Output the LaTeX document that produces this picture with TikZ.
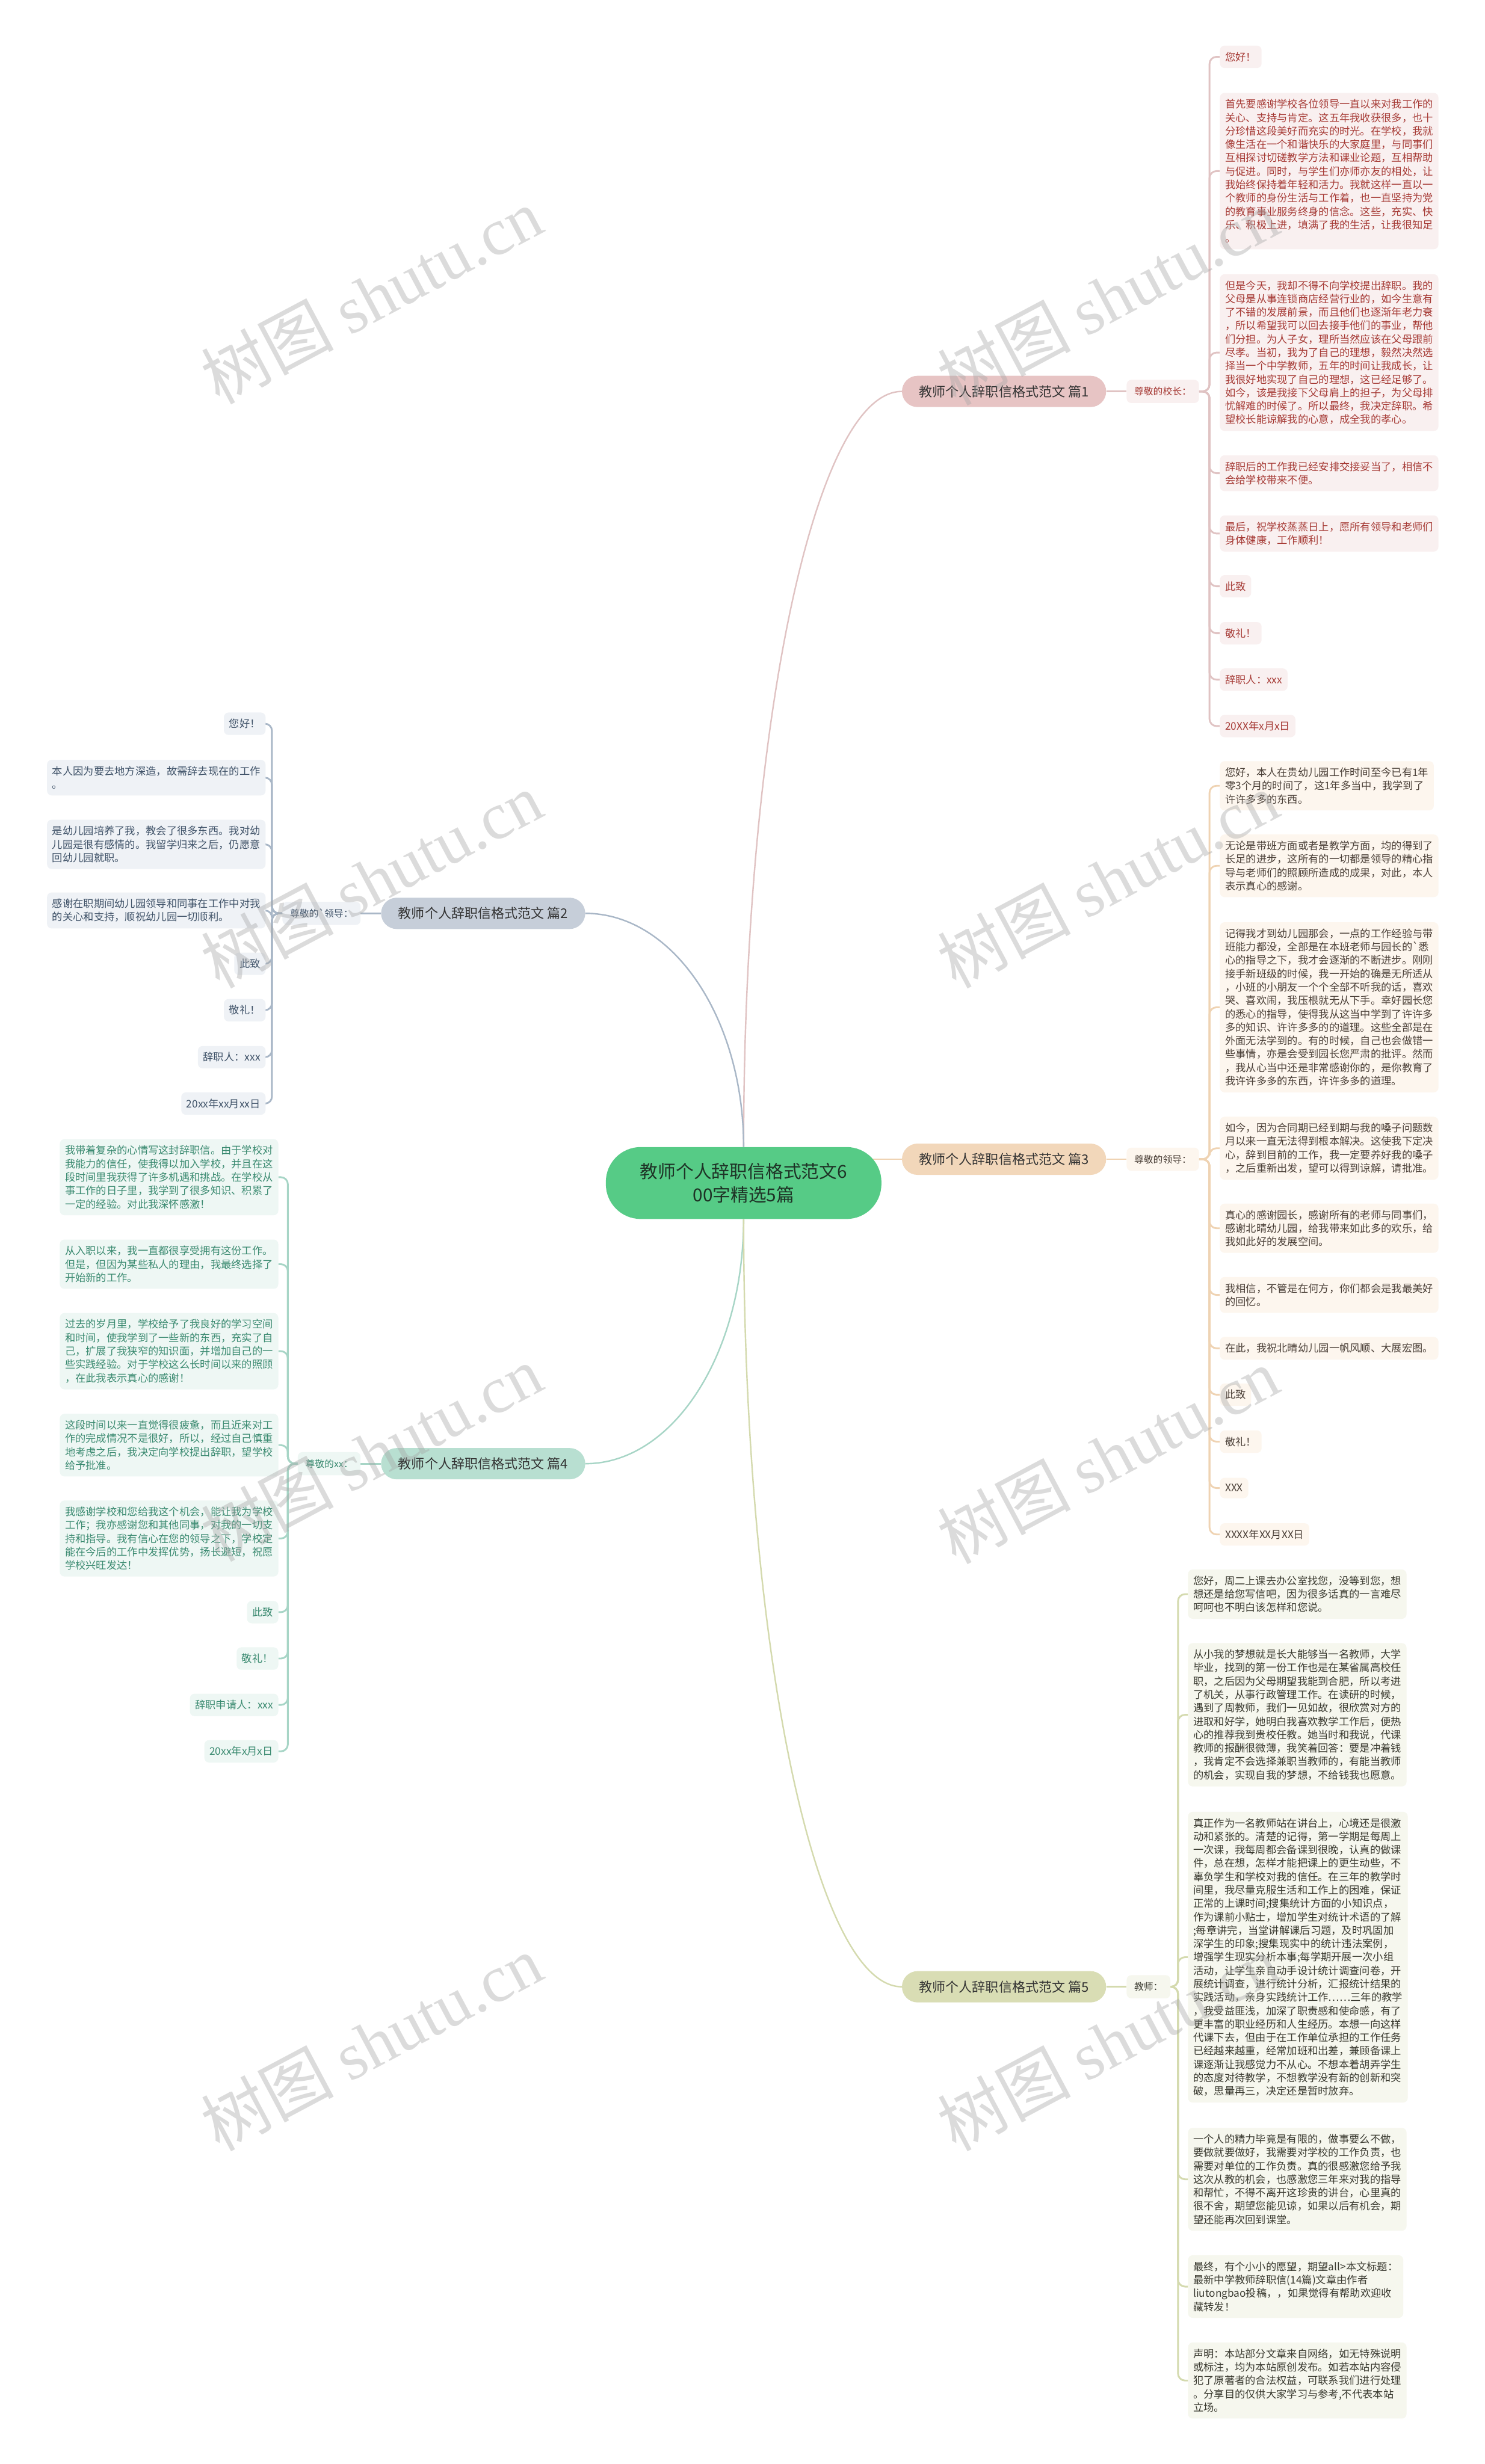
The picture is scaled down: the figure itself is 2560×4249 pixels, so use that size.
\documentclass[tikz,border=0pt]{standalone}
\usepackage{fontspec}
\setmainfont{Noto Sans CJK SC}
\newfontfamily\stampfont{Liberation Serif}
\usepackage{xcolor}
\usetikzlibrary{positioning, backgrounds}
\definecolor{rootfill}{HTML}{56CB86}
\definecolor{roottext}{HTML}{1E3326}
\definecolor{topictext}{HTML}{333333}
\definecolor{b1top}{HTML}{E7C4C4}
\definecolor{b1bg}{HTML}{F9F0F0}
\definecolor{b1fg}{HTML}{A63A35}
\definecolor{b1ln}{HTML}{E0C3C3}
\definecolor{b2top}{HTML}{C6CED9}
\definecolor{b2bg}{HTML}{EFF2F6}
\definecolor{b2fg}{HTML}{3F5268}
\definecolor{b2ln}{HTML}{A9B7C7}
\definecolor{b3top}{HTML}{F2D7BA}
\definecolor{b3bg}{HTML}{FDF6EE}
\definecolor{b3fg}{HTML}{4B4038}
\definecolor{b3ln}{HTML}{EFD3B3}
\definecolor{b4top}{HTML}{B8DFD1}
\definecolor{b4bg}{HTML}{EEF7F4}
\definecolor{b4fg}{HTML}{3A8A70}
\definecolor{b4ln}{HTML}{A7D5C6}
\definecolor{b5top}{HTML}{D9DDB4}
\definecolor{b5bg}{HTML}{F6F7EE}
\definecolor{b5fg}{HTML}{3A3A30}
\definecolor{b5ln}{HTML}{D4DAAE}
\tikzset{
    lettermap/.style={x=1bp, y=-1bp, node distance=35bp},
    root/.style={fill=rootfill, text=roottext, rounded corners=60bp, minimum width=475bp, minimum height=124bp, align=center, font=\fontsize{31}{40}\selectfont},
    topic/.style={text=topictext, rounded corners=27bp, minimum width=352bp, minimum height=54bp, font=\fontsize{23}{27}\selectfont},
    greet/.style={rounded corners=8bp, inner xsep=13bp, minimum height=40bp, font=\fontsize{16.5}{20}\selectfont},
    leaf/.style={rounded corners=8bp, inner xsep=9bp, inner ysep=11bp, align=left, font=\fontsize{18}{23.2}\selectfont},
    rleaf/.style={leaf, anchor=west},
    lleaf/.style={leaf, anchor=east},
    tone1/.style={fill=b1bg, text=b1fg},
    tone2/.style={fill=b2bg, text=b2fg},
    tone3/.style={fill=b3bg, text=b3fg},
    tone4/.style={fill=b4bg, text=b4fg},
    tone5/.style={fill=b5bg, text=b5fg},
    line1/.style={draw=b1ln},
    line2/.style={draw=b2ln},
    line3/.style={draw=b3ln},
    line4/.style={draw=b4ln},
    line5/.style={draw=b5ln},
    twig/.style={line width=3bp, rounded corners=12bp},
    trunk/.style={line width=2.5bp},
    % faint site mark laid over the map
    stamp/.style={rotate=28, text=gray!70, opacity=0.4, font=\fontsize{115}{115}\selectfont},
}
\begin{document}
\begin{tikzpicture}[lettermap]
    \useasboundingbox (0,0) rectangle (2560,4249);
    \begin{scope}[on background layer]
        \fill[white] (0,0) rectangle (2560,4249);
    \end{scope}

    \node[root] (root) at (1282,2040) {教师个人辞职信格式范文6\\00字精选5篇};
    \node[topic, fill=b1top] (t1) at (1731,675)  {教师个人辞职信格式范文 篇1};
    \node[topic, fill=b2top] (t2) at (833,1575)  {教师个人辞职信格式范文 篇2};
    \node[topic, fill=b3top] (t3) at (1731,1999) {教师个人辞职信格式范文 篇3};
    \node[topic, fill=b4top] (t4) at (833,2524)  {教师个人辞职信格式范文 篇4};
    \node[topic, fill=b5top] (t5) at (1731,3426) {教师个人辞职信格式范文 篇5};

    \node[greet, tone1, right=of t1] (g1) {尊敬的校长：};
    \node[greet, tone2, left=of t2]  (g2) {尊敬的\textasciigrave 领导：};
    \node[greet, tone3, right=of t3] (g3) {尊敬的领导：};
    \node[greet, tone4, left=of t4]  (g4) {尊敬的xx：};
    \node[greet, tone5, right=of t5] (g5) {教师：};

    % letter 1
    \node[rleaf, tone1] (l1a) at (2103,98)  {您好！};
    \node[rleaf, tone1] (l1b) at (2103,295) {首先要感谢学校各位领导一直以来对我工作的\\关心、支持与肯定。这五年我收获很多，也十\\分珍惜这段美好而充实的时光。在学校，我就\\像生活在一个和谐快乐的大家庭里，与同事们\\互相探讨切磋教学方法和课业论题，互相帮助\\与促进。同时，与学生们亦师亦友的相处，让\\我始终保持着年轻和活力。我就这样一直以一\\个教师的身份生活与工作着，也一直坚持为党\\的教育事业服务终身的信念。这些，充实、快\\乐、积极上进，填满了我的生活，让我很知足\\。};
    \node[rleaf, tone1] (l1c) at (2103,608) {但是今天，我却不得不向学校提出辞职。我的\\父母是从事连锁商店经营行业的，如今生意有\\了不错的发展前景，而且他们也逐渐年老力衰\\，所以希望我可以回去接手他们的事业，帮他\\们分担。为人子女，理所当然应该在父母跟前\\尽孝。当初，我为了自己的理想，毅然决然选\\择当一个中学教师，五年的时间让我成长，让\\我很好地实现了自己的理想，这已经足够了。\\如今，该是我接下父母肩上的担子，为父母排\\忧解难的时候了。所以最终，我决定辞职。希\\望校长能谅解我的心意，成全我的孝心。};
    \node[rleaf, tone1] (l1d) at (2103,816)  {辞职后的工作我已经安排交接妥当了，相信不\\会给学校带来不便。};
    \node[rleaf, tone1] (l1e) at (2103,920)  {最后，祝学校蒸蒸日上，愿所有领导和老师们\\身体健康，工作顺利！};
    \node[rleaf, tone1] (l1f) at (2103,1011) {此致};
    \node[rleaf, tone1] (l1g) at (2103,1092) {敬礼！};
    \node[rleaf, tone1] (l1h) at (2103,1172) {辞职人：xxx};
    \node[rleaf, tone1] (l1i) at (2103,1252) {20XX年x月x日};

    % letter 2
    \node[lleaf, tone2] (l2a) at (458,1248) {您好！};
    \node[lleaf, tone2] (l2b) at (458,1341) {本人因为要去地方深造，故需辞去现在的工作\\。};
    \node[lleaf, tone2] (l2c) at (458,1456) {是幼儿园培养了我，教会了很多东西。我对幼\\儿园是很有感情的。我留学归来之后，仍愿意\\回幼儿园就职。};
    \node[lleaf, tone2] (l2d) at (458,1570) {感谢在职期间幼儿园领导和同事在工作中对我\\的关心和支持，顺祝幼儿园一切顺利。};
    \node[lleaf, tone2] (l2e) at (458,1662) {此致};
    \node[lleaf, tone2] (l2f) at (458,1742) {敬礼！};
    \node[lleaf, tone2] (l2g) at (458,1823) {辞职人：xxx};
    \node[lleaf, tone2] (l2h) at (458,1903) {20xx年xx月xx日};

    % letter 3
    \node[rleaf, tone3] (l3a) at (2103,1355) {您好，本人在贵幼儿园工作时间至今已有1年\\零3个月的时间了，这1年多当中，我学到了\\许许多多的东西。};
    \node[rleaf, tone3] (l3b) at (2103,1493) {无论是带班方面或者是教学方面，均的得到了\\长足的进步，这所有的一切都是领导的精心指\\导与老师们的照顾所造成的成果，对此，本人\\表示真心的感谢。};
    \node[rleaf, tone3] (l3c) at (2103,1737) {记得我才到幼儿园那会，一点的工作经验与带\\班能力都没，全部是在本班老师与园长的\textasciigrave 悉\\心的指导之下，我才会逐渐的不断进步。刚刚\\接手新班级的时候，我一开始的确是无所适从\\，小班的小朋友一个个全部不听我的话，喜欢\\哭、喜欢闹，我压根就无从下手。幸好园长您\\的悉心的指导，使得我从这当中学到了许许多\\多的知识、许许多多的的道理。这些全部是在\\外面无法学到的。有的时候，自己也会做错一\\些事情，亦是会受到园长您严肃的批评。然而\\，我从心当中还是非常感谢你的，是你教育了\\我许许多多的东西，许许多多的道理。};
    \node[rleaf, tone3] (l3d) at (2103,1980) {如今，因为合同期已经到期与我的嗓子问题数\\月以来一直无法得到根本解决。这使我下定决\\心，辞到目前的工作，我一定要养好我的嗓子\\，之后重新出发，望可以得到谅解，请批准。};
    \node[rleaf, tone3] (l3e) at (2103,2118) {真心的感谢园长，感谢所有的老师与同事们，\\感谢北晴幼儿园，给我带来如此多的欢乐，给\\我如此好的发展空间。};
    \node[rleaf, tone3] (l3f) at (2103,2233) {我相信，不管是在何方，你们都会是我最美好\\的回忆。};
    \node[rleaf, tone3] (l3g) at (2103,2325) {在此，我祝北晴幼儿园一帆风顺、大展宏图。};
    \node[rleaf, tone3] (l3h) at (2103,2405) {此致};
    \node[rleaf, tone3] (l3i) at (2103,2486) {敬礼！};
    \node[rleaf, tone3] (l3j) at (2103,2566) {XXX};
    \node[rleaf, tone3] (l3k) at (2103,2646) {XXXX年XX月XX日};

    % letter 4
    \node[lleaf, tone4] (l4a) at (480,2030) {我带着复杂的心情写这封辞职信。由于学校对\\我能力的信任，使我得以加入学校，并且在这\\段时间里我获得了许多机遇和挑战。在学校从\\事工作的日子里，我学到了很多知识、积累了\\一定的经验。对此我深怀感激！};
    \node[lleaf, tone4] (l4b) at (480,2180) {从入职以来，我一直都很享受拥有这份工作。\\但是，但因为某些私人的理由，我最终选择了\\开始新的工作。};
    \node[lleaf, tone4] (l4c) at (480,2330) {过去的岁月里，学校给予了我良好的学习空间\\和时间，使我学到了一些新的东西，充实了自\\己，扩展了我狭窄的知识面，并增加自己的一\\些实践经验。对于学校这么长时间以来的照顾\\，在此我表示真心的感谢！};
    \node[lleaf, tone4] (l4d) at (480,2492) {这段时间以来一直觉得很疲惫，而且近来对工\\作的完成情况不是很好，所以，经过自己慎重\\地考虑之后，我决定向学校提出辞职，望学校\\给予批准。};
    \node[lleaf, tone4] (l4e) at (480,2653) {我感谢学校和您给我这个机会，能让我为学校\\工作；我亦感谢您和其他同事，对我的一切支\\持和指导。我有信心在您的领导之下，学校定\\能在今后的工作中发挥优势，扬长避短，祝愿\\学校兴旺发达！};
    \node[lleaf, tone4] (l4f) at (480,2780) {此致};
    \node[lleaf, tone4] (l4g) at (480,2860) {敬礼！};
    \node[lleaf, tone4] (l4h) at (480,2940) {辞职申请人：xxx};
    \node[lleaf, tone4] (l4i) at (480,3020) {20xx年x月x日};

    % letter 5
    \node[rleaf, tone5] (l5a) at (2048,2749) {您好，周二上课去办公室找您，没等到您，想\\想还是给您写信吧，因为很多话真的一言难尽\\呵呵也不明白该怎样和您说。};
    \node[rleaf, tone5] (l5b) at (2048,2957) {从小我的梦想就是长大能够当一名教师，大学\\毕业，找到的第一份工作也是在某省属高校任\\职，之后因为父母期望我能到合肥，所以考进\\了机关，从事行政管理工作。在读研的时候，\\遇到了周教师，我们一见如故，很欣赏对方的\\进取和好学，她明白我喜欢教学工作后，便热\\心的推荐我到贵校任教。她当时和我说，代课\\教师的报酬很微薄，我笑着回答：要是冲着钱\\，我肯定不会选择兼职当教师的，有能当教师\\的机会，实现自我的梦想，不给钱我也愿意。};
    \node[rleaf, tone5] (l5c) at (2048,3375) {真正作为一名教师站在讲台上，心境还是很激\\动和紧张的。清楚的记得，第一学期是每周上\\一次课，我每周都会备课到很晚，认真的做课\\件，总在想，怎样才能把课上的更生动些，不\\辜负学生和学校对我的信任。在三年的教学时\\间里，我尽量克服生活和工作上的困难，保证\\正常的上课时间;搜集统计方面的小知识点，\\作为课前小贴士，增加学生对统计术语的了解\\;每章讲完，当堂讲解课后习题，及时巩固加\\深学生的印象;搜集现实中的统计违法案例，\\增强学生现实分析本事;每学期开展一次小组\\活动，让学生亲自动手设计统计调查问卷，开\\展统计调查，进行统计分析，汇报统计结果的\\实践活动，亲身实践统计工作……三年的教学\\，我受益匪浅，加深了职责感和使命感，有了\\更丰富的职业经历和人生经历。本想一向这样\\代课下去，但由于在工作单位承担的工作任务\\已经越来越重，经常加班和出差，兼顾备课上\\课逐渐让我感觉力不从心。不想本着胡弄学生\\的态度对待教学，不想教学没有新的创新和突\\破，思量再三，决定还是暂时放弃。};
    \node[rleaf, tone5] (l5d) at (2048,3758) {一个人的精力毕竟是有限的，做事要么不做，\\要做就要做好，我需要对学校的工作负责，也\\需要对单位的工作负责。真的很感激您给予我\\这次从教的机会，也感激您三年来对我的指导\\和帮忙，不得不离开这珍贵的讲台，心里真的\\很不舍，期望您能见谅，如果以后有机会，期\\望还能再次回到课堂。};
    \node[rleaf, tone5] (l5e) at (2048,3943) {最终，有个小小的愿望，期望all>本文标题：\\最新中学教师辞职信(14篇)文章由作者\\liutongbao投稿，，如果觉得有帮助欢迎收\\藏转发！};
    \node[rleaf, tone5] (l5f) at (2048,4105) {声明：本站部分文章来自网络，如无特殊说明\\或标注，均为本站原创发布。如若本站内容侵\\犯了原著者的合法权益，可联系我们进行处理\\。分享目的仅供大家学习与参考,不代表本站\\立场。};

    \begin{scope}[on background layer]
        \draw[trunk, line1] (root.north) .. controls +(0,-720) and +(-151,0) .. (t1.west);
        \draw[trunk, line2] (root.north) .. controls +(0,-222) and +(151,0) .. (t2.east);
        \draw[trunk, line3] (t3.west) -- (t3.west -| root.center);
        \draw[trunk, line4] (root.south) .. controls +(0,233) and +(151,0) .. (t4.east);
        \draw[trunk, line5] (root.south) .. controls +(0,731) and +(-151,0) .. (t5.west);

        \draw[twig, line1] (t1) -- (g1);
        \draw[twig, line2] (t2) -- (g2);
        \draw[twig, line3] (t3) -- (g3);
        \draw[twig, line4] (t4) -- (g4);
        \draw[twig, line5] (t5) -- (g5);

        \draw[twig, line1] (g1.east) -- ++(18,0) |- (l1a.west);
        \draw[twig, line1] (g1.east) -- ++(18,0) |- (l1b.west);
        \draw[twig, line1] (g1.east) -- ++(18,0) |- (l1c.west);
        \draw[twig, line1] (g1.east) -- ++(18,0) |- (l1d.west);
        \draw[twig, line1] (g1.east) -- ++(18,0) |- (l1e.west);
        \draw[twig, line1] (g1.east) -- ++(18,0) |- (l1f.west);
        \draw[twig, line1] (g1.east) -- ++(18,0) |- (l1g.west);
        \draw[twig, line1] (g1.east) -- ++(18,0) |- (l1h.west);
        \draw[twig, line1] (g1.east) -- ++(18,0) |- (l1i.west);

        \draw[twig, line2] (g2.west) -- ++(-18,0) |- (l2a.east);
        \draw[twig, line2] (g2.west) -- ++(-18,0) |- (l2b.east);
        \draw[twig, line2] (g2.west) -- ++(-18,0) |- (l2c.east);
        \draw[twig, line2] (g2.west) -- ++(-18,0) |- (l2d.east);
        \draw[twig, line2] (g2.west) -- ++(-18,0) |- (l2e.east);
        \draw[twig, line2] (g2.west) -- ++(-18,0) |- (l2f.east);
        \draw[twig, line2] (g2.west) -- ++(-18,0) |- (l2g.east);
        \draw[twig, line2] (g2.west) -- ++(-18,0) |- (l2h.east);

        \draw[twig, line3] (g3.east) -- ++(18,0) |- (l3a.west);
        \draw[twig, line3] (g3.east) -- ++(18,0) |- (l3b.west);
        \draw[twig, line3] (g3.east) -- ++(18,0) |- (l3c.west);
        \draw[twig, line3] (g3.east) -- ++(18,0) |- (l3d.west);
        \draw[twig, line3] (g3.east) -- ++(18,0) |- (l3e.west);
        \draw[twig, line3] (g3.east) -- ++(18,0) |- (l3f.west);
        \draw[twig, line3] (g3.east) -- ++(18,0) |- (l3g.west);
        \draw[twig, line3] (g3.east) -- ++(18,0) |- (l3h.west);
        \draw[twig, line3] (g3.east) -- ++(18,0) |- (l3i.west);
        \draw[twig, line3] (g3.east) -- ++(18,0) |- (l3j.west);
        \draw[twig, line3] (g3.east) -- ++(18,0) |- (l3k.west);

        \draw[twig, line4] (g4.west) -- ++(-17,0) |- (l4a.east);
        \draw[twig, line4] (g4.west) -- ++(-17,0) |- (l4b.east);
        \draw[twig, line4] (g4.west) -- ++(-17,0) |- (l4c.east);
        \draw[twig, line4] (g4.west) -- ++(-17,0) |- (l4d.east);
        \draw[twig, line4] (g4.west) -- ++(-17,0) |- (l4e.east);
        \draw[twig, line4] (g4.west) -- ++(-17,0) |- (l4f.east);
        \draw[twig, line4] (g4.west) -- ++(-17,0) |- (l4g.east);
        \draw[twig, line4] (g4.west) -- ++(-17,0) |- (l4h.east);
        \draw[twig, line4] (g4.west) -- ++(-17,0) |- (l4i.east);

        \draw[twig, line5] (g5.east) -- ++(13,0) |- (l5a.west);
        \draw[twig, line5] (g5.east) -- ++(13,0) |- (l5b.west);
        \draw[twig, line5] (g5.east) -- ++(13,0) |- (l5c.west);
        \draw[twig, line5] (g5.east) -- ++(13,0) |- (l5d.west);
        \draw[twig, line5] (g5.east) -- ++(13,0) |- (l5e.west);
        \draw[twig, line5] (g5.east) -- ++(13,0) |- (l5f.west);
    \end{scope}

    \node[stamp] (w1) at (640,510)  {树图 {\stampfont shutu.cn}};
    \node[stamp] (w2) at (1910,512) {树图 {\stampfont shutu.cn}};
    \node[stamp] (w3) at (640,1517)  {树图 {\stampfont shutu.cn}};
    \node[stamp] (w4) at (1910,1517) {树图 {\stampfont shutu.cn}};
    \node[stamp] (w5) at (640,2506)  {树图 {\stampfont shutu.cn}};
    \node[stamp] (w6) at (1910,2510) {树图 {\stampfont shutu.cn}};
    \node[stamp] (w7) at (640,3522)  {树图 {\stampfont shutu.cn}};
    \node[stamp] (w8) at (1910,3522) {树图 {\stampfont shutu.cn}};
\end{tikzpicture}
\end{document}
